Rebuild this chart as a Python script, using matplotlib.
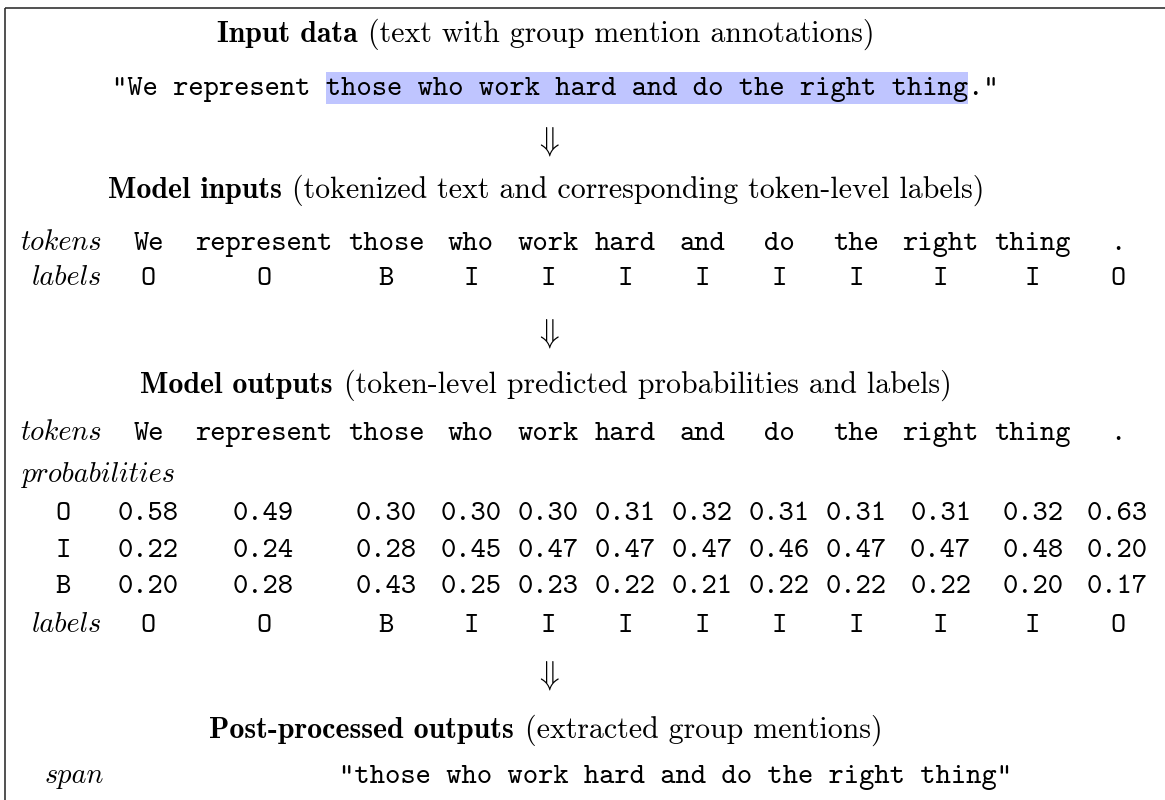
import matplotlib
matplotlib.use('Agg')
import matplotlib.pyplot as plt
from matplotlib.patches import Rectangle

plt.rcParams['mathtext.fontset'] = 'cm'

# Data
tokens = ['We', 'represent', 'those', 'who', 'work', 'hard', 'and', 'do', 'the', 'right', 'thing', '.']
input_labels = ['O', 'O', 'B', 'I', 'I', 'I', 'I', 'I', 'I', 'I', 'I', 'O']
prob_O = [0.58, 0.49, 0.30, 0.30, 0.30, 0.31, 0.32, 0.31, 0.31, 0.31, 0.32, 0.63]
prob_I = [0.22, 0.24, 0.28, 0.45, 0.47, 0.47, 0.47, 0.46, 0.47, 0.47, 0.48, 0.20]
prob_B = [0.20, 0.28, 0.43, 0.25, 0.23, 0.22, 0.21, 0.22, 0.22, 0.22, 0.20, 0.17]
pred_labels = ['O', 'O', 'B', 'I', 'I', 'I', 'I', 'I', 'I', 'I', 'I', 'O']
sentence_pre = '"We represent '
mention = 'those who work hard and do the right thing'
sentence_post = '."'
headings = [
    ('Input data', '(text with group mention annotations)'),
    ('Model inputs', '(tokenized text and corresponding token-level labels)'),
    ('Model outputs', '(token-level predicted probabilities and labels)'),
    ('Post-processed outputs', '(extracted group mentions)'),
]

FS_RM = 21.5
FS_TT = 21.0
FS_IT = 20.3
SIZES = {'cmb10': FS_RM, 'cmr10': FS_RM, 'cmtt10': FS_TT, 'cmmi10': FS_IT}
W, H = 1165, 800
fig = plt.figure(figsize=(W / 100, H / 100), dpi=100)
ax = fig.add_axes([0, 0, 1, 1])
ax.set_xlim(0, W)
ax.set_ylim(H, 0)
ax.axis('off')
renderer = fig.canvas.get_renderer()


def width_of(t):
    return t.get_window_extent(renderer).width


def txt(x, y, s, fam, ha='center', **kw):
    return ax.text(x, y, s, fontfamily=fam, fontsize=SIZES[fam], ha=ha, va='baseline', **kw)


def heading(y, bold, rest, cx=546):
    tb = txt(0, y, bold, 'cmb10', ha='left')
    tr = txt(0, y, rest, 'cmr10', ha='left')
    gap = 0.36 * FS_RM * 100 / 72
    total = width_of(tb) + gap + width_of(tr)
    x0 = cx - total / 2
    tb.set_x(x0)
    tr.set_x(x0 + width_of(tb) + gap)


# border
ax.add_patch(Rectangle((5, 8), 1300, 900, fill=False, lw=1.2, ec='#333333'))

# column layout from monospace width
probe = txt(0, 0, '0.58', 'cmtt10')
cw = width_of(probe) / 4
probe.remove()
col_x = []
x0 = 118
for tok in tokens:
    w = max(len(tok), 4) * cw
    col_x.append(x0 + w / 2)
    x0 += w + 16.0

# arrows
for ya in [142, 333, 676]:
    ax.text(547, ya, r'$\Downarrow$', fontsize=FS_RM * 1.08, ha='center', va='center')

# Input data
heading(42, *headings[0])
full = sentence_pre + mention + sentence_post
ts = txt(555, 95, full, 'cmtt10', zorder=3)
sw = width_of(ts)
ccw = sw / len(full)
left = 555 - sw / 2
ax.add_patch(Rectangle((left + len(sentence_pre) * ccw, 72), len(mention) * ccw, 32,
                       color='#bfc5ff', lw=0, zorder=2))

# Model inputs
heading(198, *headings[1])
txt(102, 250, 'tokens', 'cmmi10', ha='right')
txt(102, 285, 'labels', 'cmmi10', ha='right')
for x, tok, lab in zip(col_x, tokens, input_labels):
    txt(x, 250, tok, 'cmtt10')
    txt(x, 285, lab, 'cmtt10')

# Model outputs
heading(393, *headings[2])
txt(102, 440, 'tokens', 'cmmi10', ha='right')
txt(22, 482, 'probabilities', 'cmmi10', ha='left')
txt(102, 632, 'labels', 'cmmi10', ha='right')
for name, row, y in [('O', prob_O, 520), ('I', prob_I, 557), ('B', prob_B, 593)]:
    txt(63, y, name, 'cmtt10')
    for x, p in zip(col_x, row):
        txt(x, y, f'{p:.2f}', 'cmtt10')
for x, tok, lab in zip(col_x, tokens, pred_labels):
    txt(x, 440, tok, 'cmtt10')
    txt(x, 632, lab, 'cmtt10')

# Post-processed
heading(738, *headings[3])
txt(74, 783, 'span', 'cmmi10')
txt(676, 783, '"' + mention + '"', 'cmtt10')

fig.savefig('out.png', dpi=100)
